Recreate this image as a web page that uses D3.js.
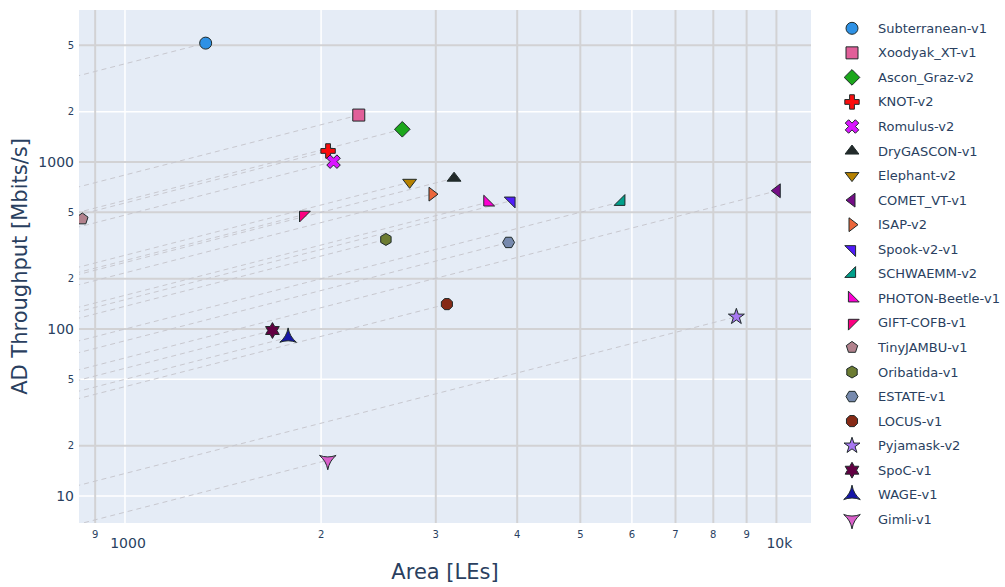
<!DOCTYPE html>
<html>
<head>
<meta charset="utf-8">
<script src="https://cdn.jsdelivr.net/npm/d3@7"></script>
<style>
  body { margin: 0; background: #fff; }
  svg text { font-family: Verdana, "DejaVu Sans", sans-serif; fill: #2a3f5f; }
</style>
</head>
<body>
<div id="chart"></div>
<script>
// Dữ liệu: diện tích (LEs) và thông lượng AD (Mbits/s)
const names = ["Subterranean-v1", "Xoodyak_XT-v1", "Ascon_Graz-v2", "KNOT-v2", "Romulus-v2",
    "DryGASCON-v1", "Elephant-v2", "COMET_VT-v1", "ISAP-v2", "Spook-v2-v1", "SCHWAEMM-v2",
    "PHOTON-Beetle-v1", "GIFT-COFB-v1", "TinyJAMBU-v1", "Oribatida-v1", "ESTATE-v1",
    "LOCUS-v1", "Pyjamask-v2", "SpoC-v1", "WAGE-v1", "Gimli-v1"];
const areas = [1330, 2285, 2665, 2050, 2090, 3200, 2735, 10030, 2960, 3920, 5780,
    3600, 1877, 860, 2515, 3880, 3120, 8680, 1684, 1780, 2048];
const throughputs = [5150, 1910, 1570, 1165, 1005, 800, 756, 673, 642, 587, 578,
    573, 483, 456, 344, 330, 141, 118.5, 98, 89, 16.4];
const symbols = ["circle", "square", "diamond", "cross", "x", "triangle-up", "triangle-down",
    "triangle-left", "triangle-right", "triangle-ne", "triangle-se", "triangle-sw", "triangle-nw",
    "pentagon", "hexagon", "hexagon2", "octagon", "star", "hexagram", "star-triangle-up",
    "star-triangle-down"];
const colors = ["#2E91E5", "#E15F99", "#1CA71C", "#FB0D0D", "#DA16FF", "#222A2A", "#B68100",
    "#750D86", "#EB663B", "#511CFB", "#00A08B", "#FB00D1", "#FC0080", "#B2828D", "#6C7C32",
    "#778AAE", "#862A16", "#A777F1", "#620042", "#1616A7", "#DA60CA"];

// Ticks
const xTicks = [900, 1000, 2000, 3000, 4000, 5000, 6000, 7000, 8000, 9000, 10000];
const xTickLabels = ["9", "1000", "2", "3", "4", "5", "6", "7", "8", "9", "10k"];
const yTicks = [10, 20, 50, 100, 200, 500, 1000, 2000, 5000];
const yTickLabels = ["10", "2", "5", "100", "2", "5", "1000", "2", "5"];
const greyGridX = [900, 3000, 4000, 5000, 7000, 8000, 9000, 10000];
const whiteGridX = [1000, 2000, 6000];
const greyGridY = [20, 100, 200, 500, 1000, 5000];
const whiteGridY = [10, 50, 2000];

const width = 1005, height = 587;
const plot = { left: 79, right: 811, top: 10, bottom: 523 };
const markerR = 6;

const svg = d3.select("#chart").append("svg")
    .attr("width", width)
    .attr("height", height);

const xScale = d3.scaleLog().domain([850, 11300]).range([plot.left, plot.right]);
const yScale = d3.scaleLog().domain([6.9, 8130]).range([plot.bottom, plot.top]);

// Hình dạng marker kiểu plotly
const symbolPath = (name, r) => {
    const f = v => (+v).toFixed(2);
    const rt = r * 2 / Math.sqrt(3), r2 = r / 2;
    switch (name) {
        case "circle":
            return `M${f(r)},0A${f(r)},${f(r)} 0 1,1 0,${f(-r)}A${f(r)},${f(r)} 0 0,1 ${f(r)},0Z`;
        case "square":
            return `M${f(r)},${f(r)}H${f(-r)}V${f(-r)}H${f(r)}Z`;
        case "diamond": {
            const d = r * 1.3;
            return `M${f(d)},0L0,${f(d)}L${f(-d)},0L0,${f(-d)}Z`;
        }
        case "cross": {
            const a = r * 0.4, b = r * 1.2;
            return `M${f(b)},${f(a)}H${f(a)}V${f(b)}H${f(-a)}V${f(a)}H${f(-b)}V${f(-a)}H${f(-a)}V${f(-b)}H${f(a)}V${f(-a)}H${f(b)}Z`;
        }
        case "x": {
            const rx = r * 0.8 / Math.SQRT2;
            const ne = `l${f(rx)},${f(rx)}`, se = `l${f(rx)},${f(-rx)}`,
                sw = `l${f(-rx)},${f(-rx)}`, nw = `l${f(-rx)},${f(rx)}`;
            return `M0,${f(rx)}` + ne + se + sw + se + sw + nw + sw + nw + ne + nw + ne + "Z";
        }
        case "triangle-up":
            return `M${f(-rt)},${f(r2)}H${f(rt)}L0,${f(-r)}Z`;
        case "triangle-down":
            return `M${f(-rt)},${f(-r2)}H${f(rt)}L0,${f(r)}Z`;
        case "triangle-left":
            return `M${f(r2)},${f(-rt)}V${f(rt)}L${f(-r)},0Z`;
        case "triangle-right":
            return `M${f(-r2)},${f(-rt)}V${f(rt)}L${f(r)},0Z`;
        case "triangle-ne": {
            const a = r * 1.2, b = r * 0.6;
            return `M${f(-a)},${f(-b)}H${f(b)}V${f(a)}Z`;
        }
        case "triangle-se": {
            const a = r * 1.2, b = r * 0.6;
            return `M${f(b)},${f(-a)}V${f(b)}H${f(-a)}Z`;
        }
        case "triangle-sw": {
            const a = r * 1.2, b = r * 0.6;
            return `M${f(a)},${f(b)}H${f(-b)}V${f(-a)}Z`;
        }
        case "triangle-nw": {
            const a = r * 1.2, b = r * 0.6;
            return `M${f(-b)},${f(a)}V${f(-b)}H${f(a)}Z`;
        }
        case "pentagon": {
            const x1 = r * 0.951, x2 = r * 0.588, y0 = -r, y1 = r * -0.309, y2 = r * 0.809;
            return `M${f(x1)},${f(y1)}L${f(x2)},${f(y2)}H${f(-x2)}L${f(-x1)},${f(y1)}L0,${f(y0)}Z`;
        }
        case "hexagon": {
            const y1 = r / 2, y2 = r * Math.sqrt(3) / 2;
            return `M${f(y2)},${f(y1)}V${f(-y1)}L0,${f(-r)}L${f(-y2)},${f(-y1)}V${f(y1)}L0,${f(r)}Z`;
        }
        case "hexagon2": {
            const y1 = r / 2, y2 = r * Math.sqrt(3) / 2;
            return `M${f(-y1)},${f(y2)}H${f(y1)}L${f(r)},0L${f(y1)},${f(-y2)}H${f(-y1)}L${f(-r)},0Z`;
        }
        case "octagon": {
            const a = r * 0.924, b = r * 0.383;
            return `M${f(-b)},${f(-a)}H${f(b)}L${f(a)},${f(-b)}V${f(b)}L${f(b)},${f(a)}H${f(-b)}L${f(-a)},${f(b)}V${f(-b)}Z`;
        }
        case "star": {
            const rs = r * 1.4;
            const x1 = rs * 0.225, x2 = rs * 0.951, x3 = rs * 0.363, x4 = rs * 0.588,
                y0 = -rs, y1 = rs * -0.309, y3 = rs * 0.118, y4 = rs * 0.809, y5 = rs * 0.382;
            return `M${f(x1)},${f(y1)}H${f(x2)}L${f(x3)},${f(y3)}L${f(x4)},${f(y4)}L0,${f(y5)}` +
                `L${f(-x4)},${f(y4)}L${f(-x3)},${f(y3)}L${f(-x2)},${f(y1)}H${f(-x1)}L0,${f(y0)}Z`;
        }
        case "hexagram": {
            const y = r * 0.66, x1 = r * 0.38, x2 = r * 0.76;
            return `M${f(-x2)},0l${f(-x1)},${f(-y)}h${f(x2)}l${f(x1)},${f(-y)}l${f(x1)},${f(y)}h${f(x2)}` +
                `l${f(-x1)},${f(y)}l${f(x1)},${f(y)}h${f(-x2)}l${f(-x1)},${f(y)}l${f(-x1)},${f(-y)}h${f(-x2)}Z`;
        }
        case "star-triangle-up": {
            const x = r * Math.sqrt(3) * 0.8, y1 = r * 0.8, y2 = r * 1.6, rc = r * 4;
            const a = `A${f(rc)},${f(rc)} 0 0 1 `;
            return `M${f(-x)},${f(y1)}` + a + `${f(x)},${f(y1)}` + a + `0,${f(-y2)}` + a + `${f(-x)},${f(y1)}Z`;
        }
        case "star-triangle-down": {
            const x = r * Math.sqrt(3) * 0.8, y1 = r * 0.8, y2 = r * 1.6, rc = r * 4;
            const a = `A${f(rc)},${f(rc)} 0 0 1 `;
            return `M${f(x)},${f(-y1)}` + a + `${f(-x)},${f(-y1)}` + a + `0,${f(y2)}` + a + `${f(x)},${f(-y1)}Z`;
        }
    }
    return "";
};

// Nền vùng vẽ
svg.append("rect")
    .attr("x", plot.left).attr("y", plot.top)
    .attr("width", plot.right - plot.left)
    .attr("height", plot.bottom - plot.top)
    .attr("fill", "#E5ECF6");

svg.append("clipPath").attr("id", "plot-clip")
    .append("rect")
    .attr("x", plot.left).attr("y", plot.top)
    .attr("width", plot.right - plot.left)
    .attr("height", plot.bottom - plot.top);

// Lưới
const grid = svg.append("g");
grid.selectAll(".gx-white").data(whiteGridX).join("line")
    .attr("x1", d => xScale(d)).attr("x2", d => xScale(d))
    .attr("y1", plot.top).attr("y2", plot.bottom)
    .attr("stroke", "#fff").attr("stroke-width", 1.5);
grid.selectAll(".gy-white").data(whiteGridY).join("line")
    .attr("y1", d => yScale(d)).attr("y2", d => yScale(d))
    .attr("x1", plot.left).attr("x2", plot.right)
    .attr("stroke", "#fff").attr("stroke-width", 1.5);
grid.selectAll(".gx-grey").data(greyGridX).join("line")
    .attr("x1", d => xScale(d)).attr("x2", d => xScale(d))
    .attr("y1", plot.top).attr("y2", plot.bottom)
    .attr("stroke", "#d2d2d4").attr("stroke-width", 2);
grid.selectAll(".gy-grey").data(greyGridY).join("line")
    .attr("y1", d => yScale(d)).attr("y2", d => yScale(d))
    .attr("x1", plot.left).attr("x2", plot.right)
    .attr("stroke", "#d2d2d4").attr("stroke-width", 2);

// Tick labels
const isPow10 = v => Math.abs(Math.log10(v) - Math.round(Math.log10(v))) < 1e-9;

svg.append("g").selectAll("text").data(xTicks).join("text")
    .attr("x", d => xScale(d) + (isPow10(d) ? 3 : 0))
    .attr("y", d => isPow10(d) ? 548 : 538)
    .attr("text-anchor", "middle")
    .style("font-size", d => isPow10(d) ? "14px" : "10px")
    .text((d, i) => xTickLabels[i]);

svg.append("g").selectAll("text").data(yTicks).join("text")
    .attr("x", 74)
    .attr("y", d => yScale(d) + (isPow10(d) ? 5 : 3.5))
    .attr("text-anchor", "end")
    .style("font-size", d => isPow10(d) ? "14px" : "10px")
    .text((d, i) => yTickLabels[i]);

// Tiêu đề trục
svg.append("text")
    .attr("x", (plot.left + plot.right) / 2)
    .attr("y", 579)
    .attr("text-anchor", "middle")
    .style("font-size", "21px")
    .text("Area [LEs]");

svg.append("text")
    .attr("transform", `translate(27,${(plot.top + plot.bottom) / 2}) rotate(-90)`)
    .attr("text-anchor", "middle")
    .style("font-size", "21px")
    .text("AD Throughput [Mbits/s]");

// Đường đứt nét: thông lượng/diện tích không đổi, từ mép trái đến điểm
const points = names.map((n, i) => ({ name: n, area: areas[i], tp: throughputs[i], symbol: symbols[i], color: colors[i] }));
const x0 = xScale.domain()[0] * 0.9;

const inner = svg.append("g").attr("clip-path", "url(#plot-clip)");
inner.selectAll(".ratio-line").data(points).join("line")
    .attr("x1", d => xScale(x0))
    .attr("y1", d => yScale(d.tp * x0 / d.area))
    .attr("x2", d => xScale(d.area))
    .attr("y2", d => yScale(d.tp))
    .attr("stroke", "#c8c8cf")
    .attr("stroke-width", 1)
    .attr("stroke-dasharray", "5,4");

inner.selectAll(".marker").data(points).join("path")
    .attr("transform", d => `translate(${xScale(d.area)},${yScale(d.tp)})`)
    .attr("d", d => symbolPath(d.symbol, markerR))
    .attr("fill", d => d.color)
    .attr("stroke", "#1f2a2a")
    .attr("stroke-width", 1);

// Chú thích
const legend = svg.append("g").attr("transform", "translate(852,28.3)");
const items = legend.selectAll("g").data(points).join("g")
    .attr("transform", (d, i) => `translate(0,${i * 24.55})`);
items.append("path")
    .attr("d", d => symbolPath(d.symbol, markerR))
    .attr("fill", d => d.color)
    .attr("stroke", "#1f2a2a")
    .attr("stroke-width", 1);
items.append("text")
    .attr("x", 26)
    .attr("y", 4.5)
    .style("font-size", "13px")
    .text(d => d.name);
</script>
</body>
</html>
